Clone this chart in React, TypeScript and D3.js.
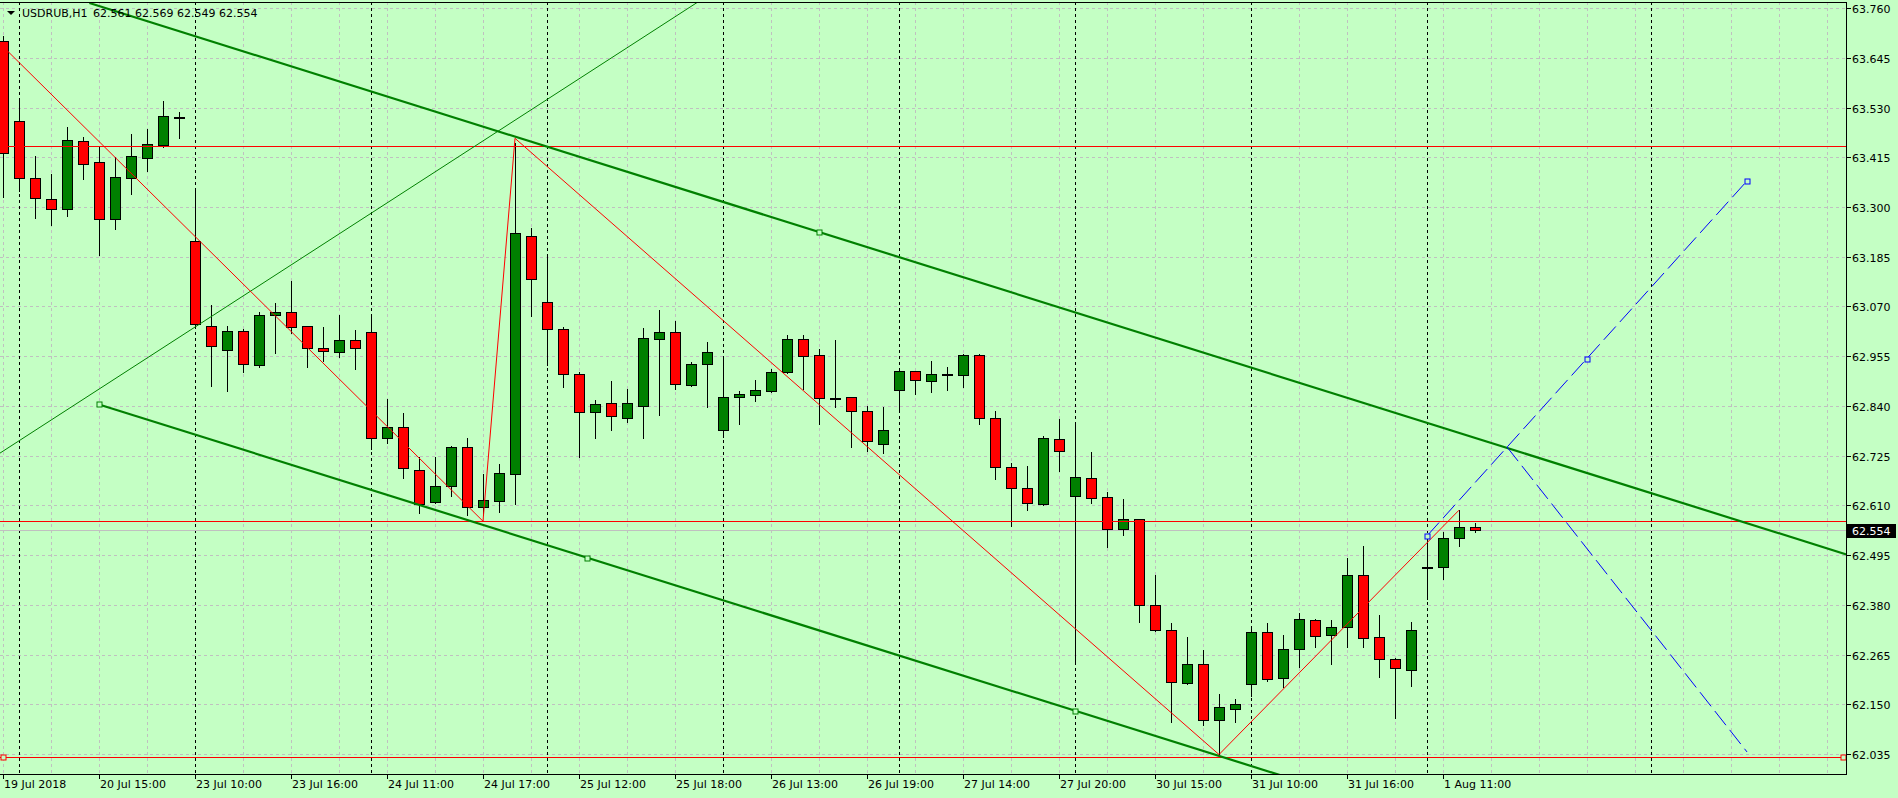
import React from "react";
import * as d3 from "d3";

const W = 1898;
const H = 798;
const BG = "#c4ffc4";
const BULL = "#008000";
const BEAR = "#ff0000";

// chart frame (pixels)
const frame = { top: 2, right: 1846, bottom: 774 };

const symbolTitle = "USDRUB,H1";
const lastQuote = "62.561 62.569 62.549 62.554";
const bidPrice = 62.554;

// trading days shown, hours 10:00..20:00 (first day only the last bar, last day only 4 bars)
const dayNames = ["19 Jul", "20 Jul", "23 Jul", "24 Jul", "25 Jul", "26 Jul", "27 Jul", "30 Jul", "31 Jul", "1 Aug"];
const dayHours = [
  [20],
  [10, 11, 12, 13, 14, 15, 16, 17, 18, 19, 20],
  [10, 11, 12, 13, 14, 15, 16, 17, 18, 19, 20],
  [10, 11, 12, 13, 14, 15, 16, 17, 18, 19, 20],
  [10, 11, 12, 13, 14, 15, 16, 17, 18, 19, 20],
  [10, 11, 12, 13, 14, 15, 16, 17, 18, 19, 20],
  [10, 11, 12, 13, 14, 15, 16, 17, 18, 19, 20],
  [10, 11, 12, 13, 14, 15, 16, 17, 18, 19, 20],
  [10, 11, 12, 13, 14, 15, 16, 17, 18, 19, 20],
  [10, 11, 12, 13],
];

const opens = [
  63.684, 63.500, 63.366, 63.318, 63.295, 63.452, 63.403, 63.272, 63.366, 63.413, 63.443, 63.508,
  63.221, 63.026, 62.969, 63.013, 62.934, 63.050, 63.057, 63.024, 62.973, 62.964, 62.992,
  63.010, 62.767, 62.791, 62.693, 62.617, 62.654, 62.746, 62.606, 62.621, 62.682, 63.233,
  63.080, 63.019, 62.913, 62.825, 62.846, 62.811, 62.841, 62.994, 63.010, 62.888, 62.936,
  62.784, 62.860, 62.865, 62.874, 62.918, 62.994, 62.957, 62.858, 62.860, 62.828, 62.751,
  62.878, 62.920, 62.897, 62.913, 62.911, 62.957, 62.811, 62.698, 62.650, 62.613, 62.763,
  62.631, 62.673, 62.629, 62.555, 62.578, 62.379, 62.321, 62.200, 62.243, 62.115, 62.139,
  62.196, 62.317, 62.212, 62.277, 62.344, 62.310, 62.328, 62.448, 62.305, 62.256, 62.229,
  62.468, 62.468, 62.534, 62.561,
];
const highs = [
  63.695, 63.551, 63.418, 63.376, 63.485, 63.463, 63.439, 63.416, 63.469, 63.480, 63.545, 63.519,
  63.343, 63.073, 63.025, 63.018, 63.057, 63.078, 63.129, 63.026, 63.023, 63.050, 63.016,
  63.053, 62.856, 62.824, 62.721, 62.722, 62.747, 62.767, 62.683, 62.706, 63.447, 63.252,
  63.191, 63.023, 62.918, 62.854, 62.898, 62.879, 63.020, 63.062, 63.036, 62.941, 62.987,
  62.955, 62.874, 62.899, 62.926, 63.003, 63.003, 62.972, 62.992, 62.861, 62.839, 62.837,
  62.921, 62.921, 62.943, 62.929, 62.959, 62.959, 62.828, 62.707, 62.700, 62.770, 62.809,
  62.802, 62.733, 62.641, 62.625, 62.579, 62.449, 62.337, 62.306, 62.276, 62.174, 62.162,
  62.331, 62.338, 62.310, 62.361, 62.347, 62.344, 62.488, 62.516, 62.356, 62.257, 62.340,
  62.538, 62.549, 62.599, 62.569,
];
const lows = [
  63.322, 63.337, 63.275, 63.258, 63.280, 63.365, 63.190, 63.250, 63.331, 63.384, 63.439, 63.460,
  63.027, 62.887, 62.875, 62.919, 62.929, 62.963, 63.008, 62.931, 62.944, 62.954, 62.926,
  62.741, 62.755, 62.674, 62.592, 62.615, 62.631, 62.588, 62.588, 62.595, 62.613, 63.048,
  62.935, 62.883, 62.723, 62.767, 62.785, 62.804, 62.767, 62.820, 62.880, 62.887, 62.838,
  62.769, 62.799, 62.852, 62.873, 62.917, 62.879, 62.798, 62.838, 62.746, 62.736, 62.732,
  62.825, 62.867, 62.872, 62.876, 62.883, 62.798, 62.670, 62.563, 62.599, 62.612, 62.690,
  62.243, 62.616, 62.515, 62.542, 62.341, 62.319, 62.110, 62.198, 62.103, 62.035, 62.109,
  62.169, 62.205, 62.191, 62.237, 62.283, 62.244, 62.283, 62.283, 62.214, 62.119, 62.193,
  62.394, 62.441, 62.517, 62.549,
];
const closes = [
  63.425, 63.368, 63.320, 63.295, 63.454, 63.399, 63.272, 63.369, 63.417, 63.445, 63.510, 63.508,
  63.029, 62.978, 63.013, 62.936, 63.050, 63.057, 63.022, 62.974, 62.966, 62.992, 62.973,
  62.767, 62.791, 62.696, 62.613, 62.654, 62.746, 62.607, 62.622, 62.684, 63.239, 63.133,
  63.019, 62.913, 62.825, 62.844, 62.816, 62.846, 62.996, 63.010, 62.890, 62.936, 62.964,
  62.860, 62.867, 62.878, 62.918, 62.994, 62.955, 62.858, 62.858, 62.828, 62.758, 62.784,
  62.920, 62.899, 62.915, 62.913, 62.957, 62.811, 62.698, 62.650, 62.615, 62.765, 62.735,
  62.675, 62.628, 62.555, 62.578, 62.379, 62.321, 62.201, 62.243, 62.115, 62.145, 62.150,
  62.317, 62.209, 62.277, 62.347, 62.307, 62.328, 62.448, 62.303, 62.256, 62.233, 62.321,
  62.468, 62.534, 62.559, 62.554,
];

// price scale ticks
const priceTicks = [
  62.035, 62.15, 62.265, 62.38, 62.495, 62.61, 62.725, 62.84,
  62.955, 63.07, 63.185, 63.3, 63.415, 63.53, 63.645, 63.76,
];

// drawn objects, positions in bar slots (0 = first visible bar) and prices
const hLevels = [63.441, 62.573, 62.028];
const hLevelMarkers = [0, 115]; // on the lowest level
const extraVLine = 103;
const trendThin = [
  [11.0625, 63.0],
  [33.9375, 63.547],
];
const channelLow = [
  [6, 62.8435],
  [67, 62.1353],
];
const channelHigh = [51, 63.2422];
const zigzag = [
  [0, 63.671],
  [30, 62.5735],
  [32, 63.4588],
  [76, 62.034],
  [91, 62.599],
];
const projUp = [
  [89, 62.5395],
  [99, 62.9495],
  [109, 63.3603],
];
const projDown = [
  [94, 62.7451],
  [109, 62.04],
];

export default function App() {
  const bars = dayNames.flatMap((d, di) => dayHours[di].map((h) => ({ day: d, hour: h })));
  const slots = bars.length;

  const x = d3.scaleLinear().domain([0, 115]).range([3, 1843]);
  const y = d3.scaleLinear().domain([61.989, 63.774]).range([frame.bottom, frame.top]);
  const px = (v: number) => Math.round(v) + 0.5;

  // vertical grid every 3 bar slots, across the whole frame
  const gridSlots = d3.range(0, 116, 3);
  const separators = bars.map((b, i) => (b.hour === 10 ? i : -1)).filter((i) => i >= 0).concat([extraVLine]);
  const timeTicks = [0].concat(d3.range(6, slots, 6));
  const timeLabel = (i: number) =>
    i === 0 ? `${bars[i].day} 2018` : `${bars[i].day} ${String(bars[i].hour).padStart(2, "0")}:00`;

  const chSlope = (channelLow[1][1] - channelLow[0][1]) / (channelLow[1][0] - channelLow[0][0]);
  const lowAt = (j: number) => channelLow[0][1] + (j - channelLow[0][0]) * chSlope;
  const offset = channelHigh[1] - lowAt(channelHigh[0]);
  const thinSlope = (trendThin[1][1] - trendThin[0][1]) / (trendThin[1][0] - trendThin[0][0]);
  const thinAt = (j: number) => trendThin[0][1] + (j - trendThin[0][0]) * thinSlope;

  const line = d3
    .line<number[]>()
    .x((d) => x(d[0]))
    .y((d) => y(d[1]));

  const marker = (j: number, p: number, color: string, key: string) => (
    <rect key={key} x={px(x(j)) - 2.5} y={px(y(p)) - 2.5} width={5} height={5} fill={BG} stroke={color} strokeWidth={1} />
  );

  const font = "'DejaVu Sans', Tahoma, sans-serif";
  const bidY = Math.round(y(bidPrice));

  return (
    <div style={{ position: "fixed", left: 0, top: 0 }}>
      <svg width={W} height={H} style={{ display: "block", background: BG, fontFamily: font, fontSize: 11 }}>
        <defs>
          <clipPath id="plotClip">
            <rect x={0} y={frame.top} width={frame.right} height={frame.bottom - frame.top} />
          </clipPath>
        </defs>

        {/* grid */}
        <g stroke="#c0c0c0" strokeDasharray="3,3" shapeRendering="crispEdges">
          {priceTicks.map((p) => (
            <line key={"hg" + p} x1={0} x2={frame.right} y1={px(y(p))} y2={px(y(p))} />
          ))}
          {gridSlots.map((j) => (
            <line key={"vg" + j} x1={px(x(j))} x2={px(x(j))} y1={frame.top} y2={frame.bottom} />
          ))}
        </g>
        {/* period separators */}
        <g stroke="#000" strokeDasharray="3,3" shapeRendering="crispEdges">
          {separators.map((j) => (
            <line key={"sep" + j} x1={px(x(j))} x2={px(x(j))} y1={frame.top} y2={frame.bottom} />
          ))}
        </g>

        {/* bid line */}
        <line x1={0} x2={frame.right} y1={bidY + 0.5} y2={bidY + 0.5} stroke="#c0c0c0" shapeRendering="crispEdges" />

        {/* candles */}
        <g clipPath="url(#plotClip)" shapeRendering="crispEdges">
          {opens.map((o, i) => {
            const c = closes[i];
            const cx = Math.round(x(i));
            const top = Math.round(y(Math.max(o, c)));
            const bot = Math.round(y(Math.min(o, c)));
            const fill = c > o ? BULL : c < o ? BEAR : "#000";
            return (
              <g key={"c" + i}>
                <line x1={cx + 0.5} x2={cx + 0.5} y1={Math.round(y(highs[i]))} y2={Math.round(y(lows[i])) + 1} stroke="#000" />
                <rect x={cx - 4.5} y={top + 0.5} width={10} height={Math.max(1, bot - top)} fill={fill} stroke="#000" />
              </g>
            );
          })}
        </g>

        {/* objects */}
        <g clipPath="url(#plotClip)">
          {hLevels.map((p) => (
            <line key={"hl" + p} x1={0} x2={frame.right} y1={px(y(p))} y2={px(y(p))} stroke="#ff0000" shapeRendering="crispEdges" />
          ))}
          <path d={line([[-1, thinAt(-1)], [116, thinAt(116)]]) ?? ""} stroke={BULL} fill="none" strokeWidth={1} />
          <path d={line([[channelLow[0][0], lowAt(channelLow[0][0])], [116, lowAt(116)]]) ?? ""} stroke={BULL} fill="none" strokeWidth={2.2} />
          <path
            d={line([[channelLow[0][0] - 0.6, lowAt(channelLow[0][0] - 0.6) + offset], [116, lowAt(116) + offset]]) ?? ""}
            stroke={BULL}
            fill="none"
            strokeWidth={2.2}
          />
          <path d={line(zigzag) ?? ""} stroke="#ff0000" fill="none" strokeWidth={1} />
          <path d={line([projUp[0], projUp[2]]) ?? ""} stroke="#0000ff" fill="none" strokeWidth={1} strokeDasharray="18,6" />
          <path d={line(projDown) ?? ""} stroke="#0000ff" fill="none" strokeWidth={1} strokeDasharray="18,6" />

          {marker(channelLow[0][0], lowAt(channelLow[0][0]), BULL, "m1")}
          {marker((channelLow[0][0] + channelLow[1][0]) / 2, lowAt((channelLow[0][0] + channelLow[1][0]) / 2), BULL, "m2")}
          {marker(channelLow[1][0], channelLow[1][1], BULL, "m3")}
          {marker(channelHigh[0], channelHigh[1], BULL, "m4")}
          {projUp.map((d, k) => marker(d[0], d[1], "#0000ff", "b" + k))}
          {hLevelMarkers.map((j, k) => marker(j, hLevels[2], "#ff0000", "r" + k))}
        </g>

        {/* frame */}
        <g stroke="#000" shapeRendering="crispEdges">
          <line x1={0} x2={frame.right + 1} y1={frame.top + 0.5} y2={frame.top + 0.5} />
          <line x1={frame.right + 0.5} x2={frame.right + 0.5} y1={frame.top} y2={frame.bottom + 1} />
          <line x1={0} x2={frame.right + 1} y1={frame.bottom + 0.5} y2={frame.bottom + 0.5} />
        </g>

        {/* price axis */}
        {priceTicks.map((p) => (
          <g key={"pt" + p}>
            <line x1={frame.right + 1} x2={frame.right + 5} y1={px(y(p))} y2={px(y(p))} stroke="#000" shapeRendering="crispEdges" />
            <text x={1852} y={Math.round(y(p)) + 4.5} fill="#000">
              {p.toFixed(3)}
            </text>
          </g>
        ))}
        <rect x={frame.right + 1} y={bidY - 6} width={W - frame.right - 3} height={14} fill="#000" />
        <text x={1852} y={bidY + 5} fill="#fff">
          {bidPrice.toFixed(3)}
        </text>

        {/* time axis */}
        {timeTicks.map((j) => (
          <g key={"tt" + j}>
            <line x1={px(x(j))} x2={px(x(j))} y1={frame.bottom + 1} y2={frame.bottom + 5} stroke="#000" shapeRendering="crispEdges" />
            <text x={Math.round(x(j)) + 1} y={788} fill="#000">
              {timeLabel(j)}
            </text>
          </g>
        ))}

        {/* title */}
        <polygon points="7,11 15,11 11,15" fill="#000" />
        <text x={22} y={17} fill="#000">
          {symbolTitle}
        </text>
        <text x={93} y={17} fill="#000">
          {lastQuote}
        </text>
      </svg>
    </div>
  );
}
